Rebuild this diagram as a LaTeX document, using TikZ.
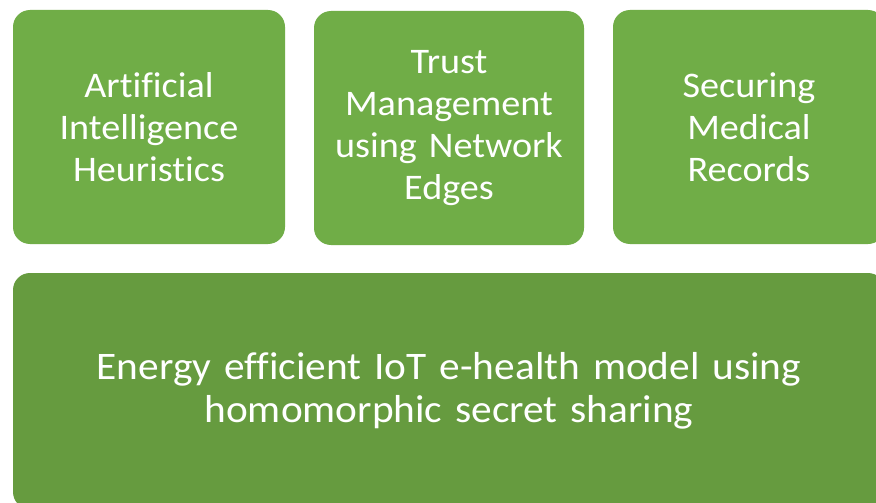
\documentclass[tikz,border=0pt]{standalone}
\usepackage{fontspec}
\setmainfont{Carlito}[FakeStretch=1.06, Ligatures=NoCommon, WordSpace=0.85]
\definecolor{topgreen}{HTML}{70AD47}
\definecolor{basegreen}{HTML}{669B3F}
\begin{document}
\begin{tikzpicture}[x=1pt,y=-1pt,
  panel/.style={rounded corners=17pt, inner sep=0pt, text=white, align=center},
  topbox/.style={panel, fill=topgreen, minimum width=272pt, minimum height=234pt,
    text width=262pt, font=\fontsize{36}{42}\selectfont},
  basebox/.style={panel, fill=basegreen, minimum width=872pt, minimum height=236pt,
    text width=860pt, font=\fontsize{39}{43}\selectfont}]
\useasboundingbox (0,0) rectangle (876,503);
\fill[white] (0,0) rectangle (876,503);
\clip (0,0) rectangle (876,503);
\node[topbox] (ai) at (149,127) {Artificial\\Intelligence\\Heuristics};
\node[topbox, minimum width=270pt] (trust) at (449,128) {Trust\\Management\\using Network\\Edges};
\node[topbox] (records) at (749,127) {Securing\\Medical\\Records};
\node[basebox] (model) at (449,391) {Energy efficient IoT e-health model using\\homomorphic secret sharing};
\end{tikzpicture}
\end{document}
